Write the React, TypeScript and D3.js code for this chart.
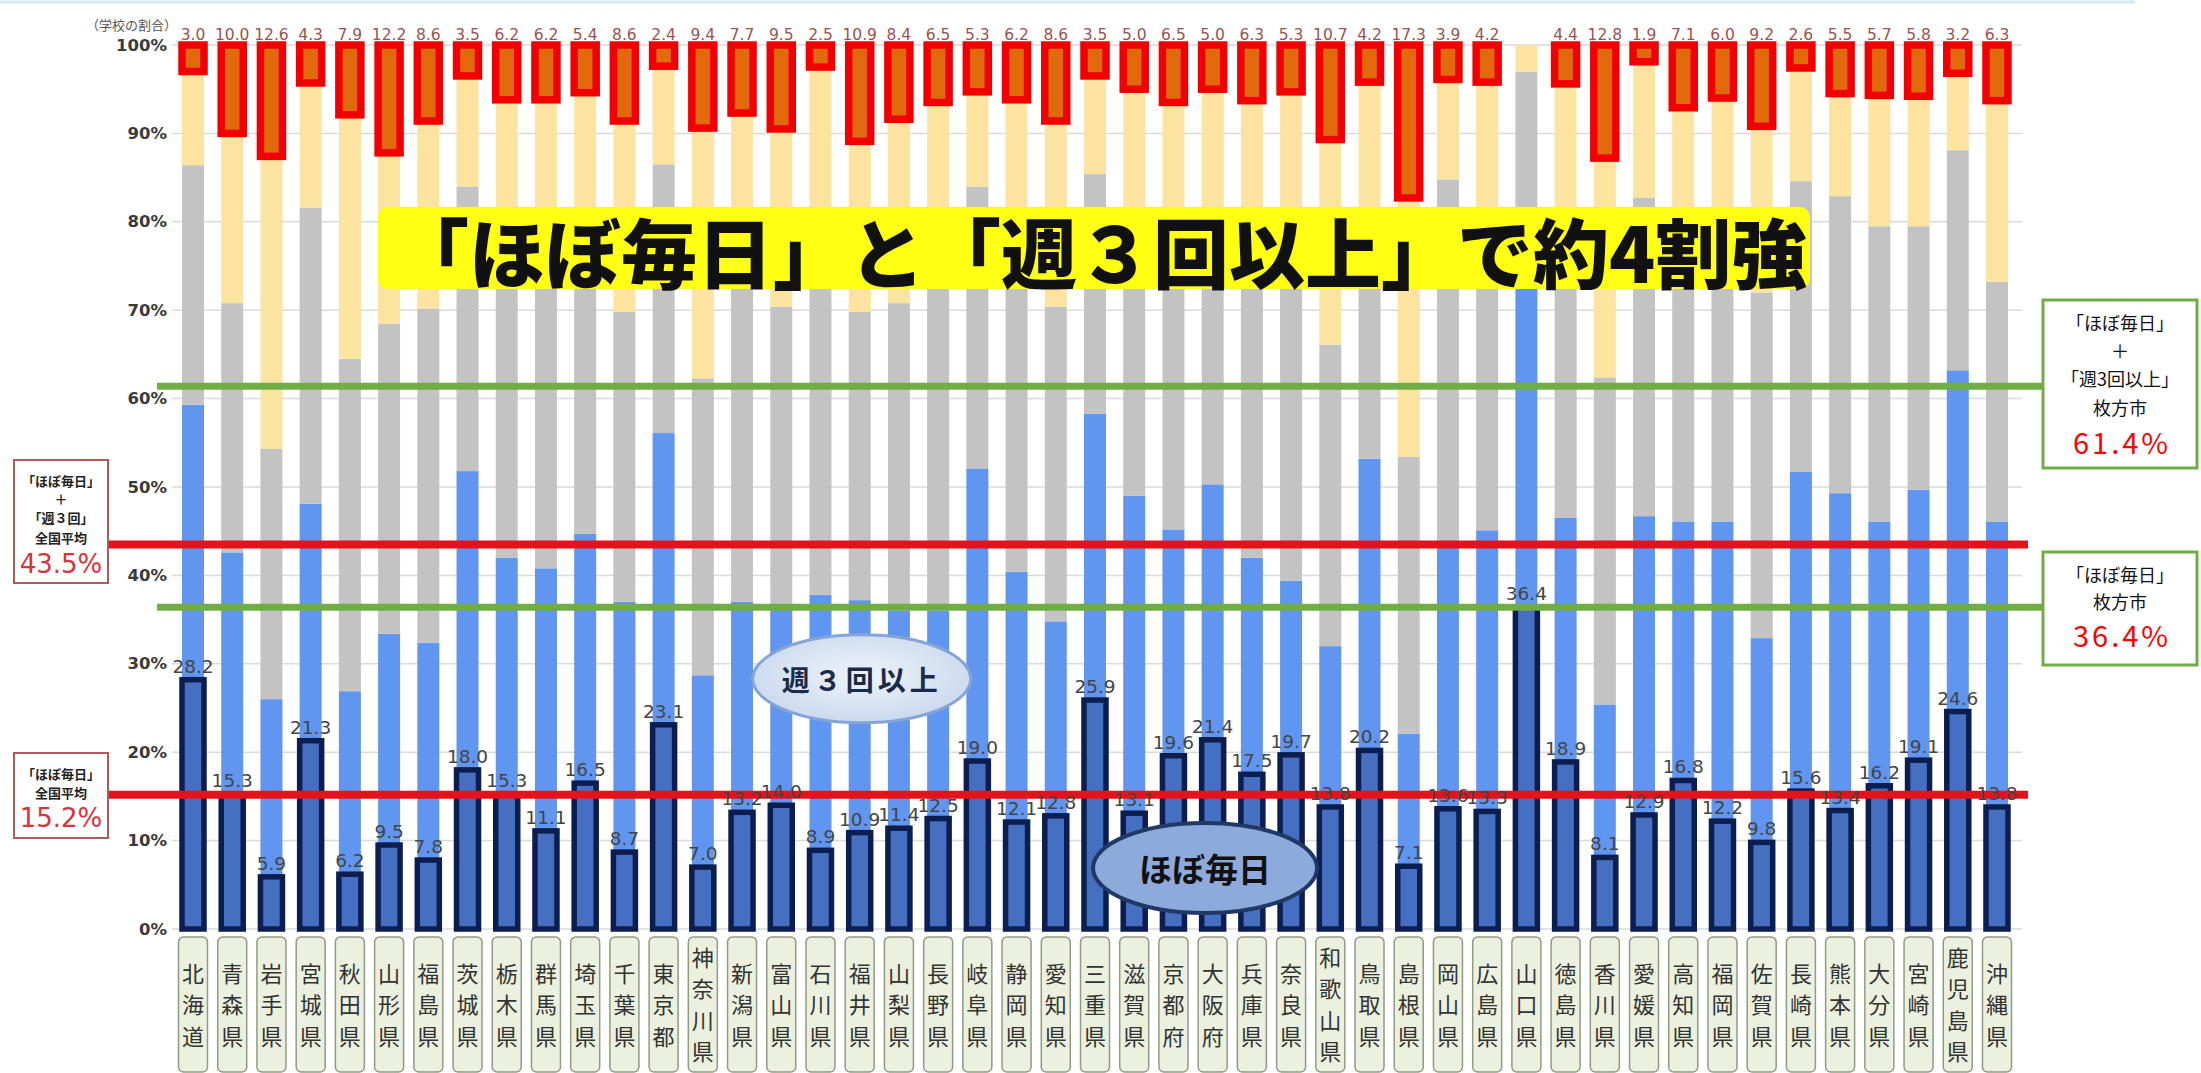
import React from "react";
import * as d3 from "d3";

// 都道府県別 部活動・運動の頻度（学校の割合）
const prefectures = [
  "北海道", "青森県", "岩手県", "宮城県", "秋田県", "山形県", "福島県", "茨城県", "栃木県", "群馬県",
  "埼玉県", "千葉県", "東京都", "神奈川県", "新潟県", "富山県", "石川県", "福井県", "山梨県", "長野県",
  "岐阜県", "静岡県", "愛知県", "三重県", "滋賀県", "京都府", "大阪府", "兵庫県", "奈良県", "和歌山県",
  "鳥取県", "島根県", "岡山県", "広島県", "山口県", "徳島県", "香川県", "愛媛県", "高知県", "福岡県",
  "佐賀県", "長崎県", "熊本県", "大分県", "宮崎県", "鹿児島県", "沖縄県",
];

// ほぼ毎日
const daily = [
  28.2, 15.3, 5.9, 21.3, 6.2, 9.5, 7.8, 18.0, 15.3, 11.1,
  16.5, 8.7, 23.1, 7.0, 13.2, 14.0, 8.9, 10.9, 11.4, 12.5,
  19.0, 12.1, 12.8, 25.9, 13.1, 19.6, 21.4, 17.5, 19.7, 13.8,
  20.2, 7.1, 13.6, 13.3, 36.4, 18.9, 8.1, 12.9, 16.8, 12.2,
  9.8, 15.6, 13.4, 16.2, 19.1, 24.6, 13.8,
];

// 週３回以上
const threePerWeek = [
  31.1, 27.3, 20.1, 26.8, 20.7, 23.9, 24.6, 33.8, 26.7, 29.7,
  28.2, 28.3, 33.0, 21.7, 23.8, 22.8, 28.9, 26.3, 24.6, 23.5,
  33.1, 28.3, 22.0, 32.4, 35.9, 25.6, 28.9, 24.5, 19.7, 18.2,
  33.0, 15.0, 30.2, 31.8, 38.6, 27.6, 17.3, 33.8, 29.3, 33.9,
  23.1, 36.1, 35.9, 29.9, 30.6, 38.6, 32.3,
];

// 週１～２回
const onceTwicePerWeek = [
  27.1, 28.2, 28.3, 33.5, 37.6, 35.1, 37.8, 32.2, 34.0, 34.2,
  32.3, 32.8, 30.4, 33.6, 39.0, 33.6, 39.2, 32.6, 34.8, 40.0,
  31.9, 35.6, 35.6, 27.1, 28.0, 30.8, 27.7, 34.0, 37.6, 34.1,
  22.8, 31.3, 41.0, 30.9, 22.0, 30.5, 37.0, 36.0, 29.9, 30.9,
  39.1, 32.9, 33.6, 33.4, 29.8, 24.9, 27.1,
];

// 月数回
const fewPerMonth = [
  10.6, 19.2, 33.1, 14.1, 27.6, 19.3, 21.2, 12.5, 17.8, 18.8,
  17.6, 21.6, 11.1, 28.3, 16.3, 20.1, 20.5, 19.3, 20.8, 17.5,
  10.7, 17.8, 21.0, 11.1, 18.0, 17.5, 17.0, 17.7, 17.7, 23.2,
  19.8, 29.3, 11.3, 19.8, 3.0, 18.6, 24.8, 15.4, 16.9, 17.0,
  18.8, 12.8, 11.6, 14.8, 14.7, 8.7, 20.5,
];

// ほとんどしない
const rarely = [
  3.0, 10.0, 12.6, 4.3, 7.9, 12.2, 8.6, 3.5, 6.2, 6.2,
  5.4, 8.6, 2.4, 9.4, 7.7, 9.5, 2.5, 10.9, 8.4, 6.5,
  5.3, 6.2, 8.6, 3.5, 5.0, 6.5, 5.0, 6.3, 5.3, 10.7,
  4.2, 17.3, 3.9, 4.2, 0, 4.4, 12.8, 1.9, 7.1, 6.0,
  9.2, 2.6, 5.5, 5.7, 5.8, 3.2, 6.3,
];

const yTicks = [0, 10, 20, 30, 40, 50, 60, 70, 80, 90, 100];

// 全国平均・枚方市の基準値
const nationalDaily = 15.2;
const nationalDailyPlus3 = 43.5;
const hirakataDaily = 36.4;
const hirakataDailyPlus3 = 61.4;

const keys = ["daily", "three", "onceTwice", "fewMonth", "rarely"] as const;

const rows = prefectures.map((name, i) => ({
  name,
  daily: daily[i],
  three: threePerWeek[i],
  onceTwice: onceTwicePerWeek[i],
  fewMonth: fewPerMonth[i],
  rarely: rarely[i],
}));

const W = 2201;
const H = 1073;
const BAR_W = 22;

const x = d3
  .scaleBand<string>()
  .domain(prefectures)
  .range([173.4, 2016.6])
  .paddingInner(0)
  .paddingOuter(0);
const y = d3.scaleLinear().domain([0, 100]).range([929, 45]);

const series = d3.stack<any>().keys(keys as unknown as string[])(rows);

const JP = "'Noto Sans CJK JP', 'Noto Sans', sans-serif";
const NUM = "'DejaVu Sans', Verdana, sans-serif";

const COLORS: Record<string, string> = {
  three: "#6096f0",
  onceTwice: "#c3c3c3",
  fewMonth: "#fce3a0",
};

function cx(name: string) {
  return (x(name) ?? 0) + x.bandwidth() / 2;
}

export default function App() {
  const segs = (key: string) => series.find((s) => s.key === key)!;
  const gridX0 = 172;
  const gridX1 = 2022;

  const leftBoxX = 14;
  const leftBoxW = 94;
  const rightBoxX = 2043;
  const rightBoxW = 154;
  const rightCX = rightBoxX + rightBoxW / 2;

  const labelCenterY = 1003;
  const labelStep = 31.5;

  return (
    <svg
      width={W}
      height={H}
      viewBox={`0 0 ${W} ${H}`}
      style={{ position: "absolute", left: 0, top: 0, background: "#fff" }}
    >
      <rect x={0} y={0} width={W} height={H} fill="#ffffff" />
      <line x1={0} x2={2135} y1={2} y2={2} stroke="#d3ecf0" strokeWidth={3} />

      {/* 目盛線 */}
      {yTicks.map((t) => (
        <line
          key={`g${t}`}
          x1={gridX0}
          x2={gridX1}
          y1={y(t)}
          y2={y(t)}
          stroke="#dadada"
          strokeWidth={1.5}
        />
      ))}
      {yTicks.map((t) => (
        <text
          key={`t${t}`}
          x={167}
          y={y(t)}
          textAnchor="end"
          dominantBaseline="central"
          fontFamily={NUM}
          fontWeight="bold"
          fontSize={16.5}
          fill="#3a3a3a"
        >
          {t}%
        </text>
      ))}
      <text x={86} y={24} fontFamily={JP} fontSize={13} fill="#555" dominantBaseline="central">
        （学校の割合）
      </text>

      {/* 積み上げ棒 */}
      {["three", "onceTwice", "fewMonth"].map((key) =>
        segs(key).map((d: any) => (
          <rect
            key={`${key}-${d.data.name}`}
            x={cx(d.data.name) - BAR_W / 2}
            y={y(d[1])}
            width={BAR_W}
            height={Math.max(0, y(d[0]) - y(d[1]))}
            fill={COLORS[key]}
          />
        ))
      )}

      {/* ほぼ毎日 */}
      {segs("daily").map((d: any) => (
        <rect
          key={`daily-${d.data.name}`}
          x={cx(d.data.name) - BAR_W / 2}
          y={y(d[1])}
          width={BAR_W}
          height={y(d[0]) - y(d[1])}
          fill="#4570c2"
          stroke="#0c1d4f"
          strokeWidth={5.5}
        />
      ))}

      {/* ほとんどしない */}
      {segs("rarely")
        .filter((d: any) => d.data.rarely > 0)
        .map((d: any) => (
          <rect
            key={`rarely-${d.data.name}`}
            x={cx(d.data.name) - BAR_W / 2}
            y={y(d[1])}
            width={BAR_W}
            height={y(d[0]) - y(d[1])}
            fill="#e06a0c"
            stroke="#f20000"
            strokeWidth={7.5}
          />
        ))}

      {/* タイトル帯 */}
      <rect x={378} y={207} width={1432} height={82} rx={10} fill="#ffff14" />
      <text
        x={393}
        y={250}
        dominantBaseline="central"
        fontFamily={JP}
        fontWeight={900}
        fontSize={76}
        fill="#111"
      >
        「ほぼ毎日」と「週３回以上」で約4割強
      </text>

      {/* 基準線 */}
      <line
        x1={157}
        x2={rightBoxX}
        y1={y(hirakataDailyPlus3)}
        y2={y(hirakataDailyPlus3)}
        stroke="#70ad47"
        strokeWidth={7}
      />
      <line
        x1={157}
        x2={rightBoxX}
        y1={y(hirakataDaily)}
        y2={y(hirakataDaily)}
        stroke="#70ad47"
        strokeWidth={7}
      />
      <line
        x1={leftBoxX + leftBoxW}
        x2={2028}
        y1={y(nationalDailyPlus3)}
        y2={y(nationalDailyPlus3)}
        stroke="#e3121b"
        strokeWidth={8}
      />
      <line
        x1={leftBoxX + leftBoxW}
        x2={2028}
        y1={y(nationalDaily)}
        y2={y(nationalDaily)}
        stroke="#e3121b"
        strokeWidth={8}
      />

      {/* ほぼ毎日の値 */}
      {rows.map((r) => (
        <text
          key={`dl-${r.name}`}
          x={cx(r.name)}
          y={y(r.daily) - 7}
          textAnchor="middle"
          fontFamily={NUM}
          fontSize={18.5}
          fill="#444"
        >
          {r.daily.toFixed(1)}
        </text>
      ))}

      {/* ほとんどしないの値 */}
      {rows
        .filter((r) => r.rarely > 0)
        .map((r) => (
          <text
            key={`rl-${r.name}`}
            x={cx(r.name)}
            y={35}
            textAnchor="middle"
            dominantBaseline="central"
            fontFamily={NUM}
            fontSize={15.5}
            fill="#9a5252"
          >
            {r.rarely.toFixed(1)}
          </text>
        ))}

      {/* 吹き出し */}
      <defs>
        <radialGradient id="bubbleGrad" cx="50%" cy="45%" r="60%">
          <stop offset="0%" stopColor="#eef3fa" />
          <stop offset="100%" stopColor="#c8d7ee" />
        </radialGradient>
      </defs>
      <ellipse
        cx={cx("福井県") + 2}
        cy={y(28.3)}
        rx={109}
        ry={44}
        fill="url(#bubbleGrad)"
        stroke="#86a5d6"
        strokeWidth={3}
      />
      <text
        x={cx("福井県") + 2}
        y={y(28.3)}
        textAnchor="middle"
        dominantBaseline="central"
        fontFamily={JP}
        fontWeight="bold"
        fontSize={28}
        letterSpacing={4}
        fill="#1b2a48"
      >
        週３回以上
      </text>
      <ellipse
        cx={(cx("京都府") + cx("大阪府")) / 2 + 12}
        cy={y(6.9)}
        rx={112}
        ry={45}
        fill="#8eaadc"
        stroke="#1f3864"
        strokeWidth={4}
      />
      <text
        x={(cx("京都府") + cx("大阪府")) / 2 + 12}
        y={y(6.9)}
        textAnchor="middle"
        dominantBaseline="central"
        fontFamily={JP}
        fontWeight="bold"
        fontSize={33}
        fill="#111"
      >
        ほぼ毎日
      </text>

      {/* 全国平均 */}
      <rect x={leftBoxX} y={460} width={leftBoxW} height={123} fill="#fff" stroke="#b05a5a" strokeWidth={2} />
      {[
        ["「ほぼ毎日」", 480],
        ["＋", 498],
        ["「週３回」", 517],
        ["全国平均", 537],
      ].map(([t, yy]) => (
        <text
          key={`lb1-${yy}`}
          x={leftBoxX + leftBoxW / 2}
          y={yy as number}
          textAnchor="middle"
          dominantBaseline="central"
          fontFamily={JP}
          fontWeight="bold"
          fontSize={13}
          fill="#222"
        >
          {t}
        </text>
      ))}
      <text
        x={leftBoxX + leftBoxW / 2}
        y={564}
        textAnchor="middle"
        dominantBaseline="central"
        fontFamily={NUM}
        fontSize={26}
        fill="#d8343c"
      >
        {nationalDailyPlus3}%
      </text>

      <rect x={leftBoxX} y={753} width={leftBoxW} height={85} fill="#fff" stroke="#b05a5a" strokeWidth={2} />
      {[
        ["「ほぼ毎日」", 773],
        ["全国平均", 792],
      ].map(([t, yy]) => (
        <text
          key={`lb2-${yy}`}
          x={leftBoxX + leftBoxW / 2}
          y={yy as number}
          textAnchor="middle"
          dominantBaseline="central"
          fontFamily={JP}
          fontWeight="bold"
          fontSize={13}
          fill="#222"
        >
          {t}
        </text>
      ))}
      <text
        x={leftBoxX + leftBoxW / 2}
        y={818}
        textAnchor="middle"
        dominantBaseline="central"
        fontFamily={NUM}
        fontSize={26}
        fill="#d8343c"
      >
        {nationalDaily}%
      </text>

      {/* 枚方市 */}
      <rect x={rightBoxX} y={300} width={rightBoxW} height={168} fill="#fff" stroke="#70ad47" strokeWidth={3} />
      {[
        ["「ほぼ毎日」", 322],
        ["＋", 350],
        ["「週3回以上」", 378],
        ["枚方市", 407],
      ].map(([t, yy]) => (
        <text
          key={`rb1-${yy}`}
          x={rightCX}
          y={yy as number}
          textAnchor="middle"
          dominantBaseline="central"
          fontFamily={JP}
          fontSize={18}
          fill="#111"
        >
          {t}
        </text>
      ))}
      <text
        x={rightCX + 2}
        y={441}
        textAnchor="middle"
        dominantBaseline="central"
        fontFamily={JP}
        fontSize={29}
        letterSpacing={3}
        fill="#ff0000"
      >
        {hirakataDailyPlus3}%
      </text>

      <rect x={rightBoxX} y={552} width={rightBoxW} height={113} fill="#fff" stroke="#70ad47" strokeWidth={3} />
      {[
        ["「ほぼ毎日」", 574],
        ["枚方市", 601],
      ].map(([t, yy]) => (
        <text
          key={`rb2-${yy}`}
          x={rightCX}
          y={yy as number}
          textAnchor="middle"
          dominantBaseline="central"
          fontFamily={JP}
          fontSize={18}
          fill="#111"
        >
          {t}
        </text>
      ))}
      <text
        x={rightCX + 2}
        y={634}
        textAnchor="middle"
        dominantBaseline="central"
        fontFamily={JP}
        fontSize={29}
        letterSpacing={3}
        fill="#ff0000"
      >
        {hirakataDaily}%
      </text>

      {/* 都道府県名 */}
      {prefectures.map((p) => {
        const chars = Array.from(p);
        const n = chars.length;
        return (
          <g key={`cat-${p}`}>
            <rect
              x={cx(p) - 14.5}
              y={937}
              width={29}
              height={135}
              rx={5}
              fill="#ebf1de"
              stroke="#8f9c82"
              strokeWidth={1.5}
            />
            {chars.map((c, i) => (
              <text
                key={i}
                x={cx(p)}
                y={labelCenterY + (i - (n - 1) / 2) * labelStep}
                textAnchor="middle"
                dominantBaseline="central"
                fontFamily={JP}
                fontSize={22}
                fill="#333"
              >
                {c}
              </text>
            ))}
          </g>
        );
      })}
    </svg>
  );
}
